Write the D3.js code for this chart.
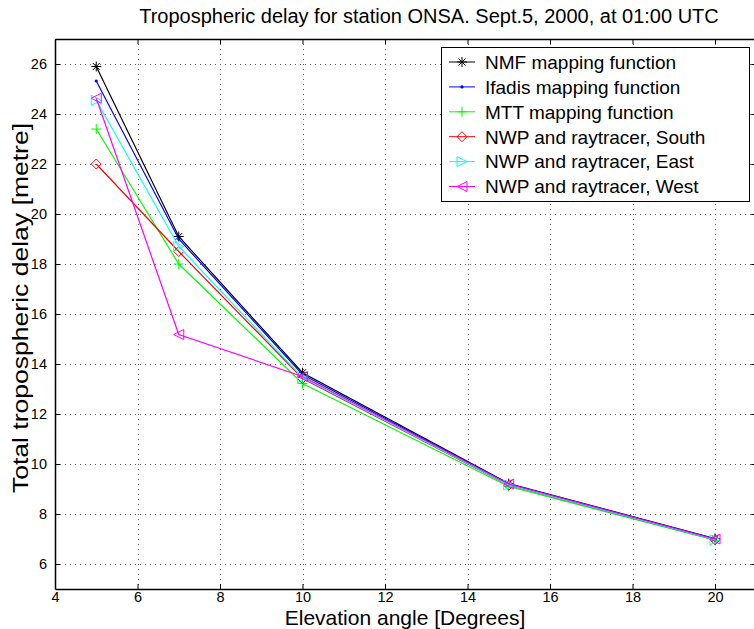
<!DOCTYPE html>
<html>
<head>
<meta charset="utf-8">
<script src="https://cdn.jsdelivr.net/npm/d3@7"></script>
<style>
  html, body { margin: 0; padding: 0; background: #fff; }
  svg { display: block; }
  text { font-family: "Liberation Sans", Arial, Helvetica, sans-serif; fill: #000; }
</style>
</head>
<body>
<svg id="chart" width="754" height="629"></svg>
<script>
// ---- data ----
const elevation = [5, 7, 10, 15, 20];
const nmf    = [25.9, 19.1, 13.65, 9.22, 7.02];
const ifadis = [25.32, 19.0, 13.58, 9.2, 7.0];
const mtt    = [23.4, 18.0, 13.22, 9.1, 6.95];
const south  = [22.0, 18.5, 13.42, 9.15, 6.97];
const east   = [24.55, 18.7, 13.46, 9.16, 6.97];
const west   = [24.63, 15.18, 13.5, 9.2, 7.0];
const seriesNames = ["NMF mapping function", "Ifadis mapping function", "MTT mapping function",
  "NWP and raytracer, South", "NWP and raytracer, East", "NWP and raytracer, West"];
const xTicks = [4, 6, 8, 10, 12, 14, 16, 18, 20];
const yTicks = [6, 8, 10, 12, 14, 16, 18, 20, 22, 24, 26];
const titleText = "Tropospheric delay for station ONSA. Sept.5, 2000, at 01:00 UTC";
const xLabel = "Elevation angle [Degrees]";
const yLabel = "Total tropospheric delay [metre]";

const series = [
  { name: seriesNames[0], values: nmf,    color: "#000000", marker: "star" },
  { name: seriesNames[1], values: ifadis, color: "#0000ff", marker: "dot" },
  { name: seriesNames[2], values: mtt,    color: "#00ff00", marker: "plus" },
  { name: seriesNames[3], values: south,  color: "#ff0000", marker: "diamond" },
  { name: seriesNames[4], values: east,   color: "#00ffff", marker: "triR" },
  { name: seriesNames[5], values: west,   color: "#ff00ff", marker: "triL" }
];

// ---- layout ----
const L = 55, T = 39, B = 589;
const x = d3.scaleLinear().domain([4, 21]).range([L, L + 17 * 41.25]);
const y = d3.scaleLinear().domain([5, 27]).range([B, T]);
const R = x(21);

const svg = d3.select("#chart");

// grid
const grid = svg.append("g").attr("stroke", "#000").attr("stroke-width", 1)
  .attr("stroke-dasharray", "1,4").attr("shape-rendering", "crispEdges").attr("opacity", 0.6);
xTicks.filter(t => t > 4).forEach(t => {
  grid.append("line").attr("x1", Math.round(x(t)) + 0.5).attr("x2", Math.round(x(t)) + 0.5)
    .attr("y1", T).attr("y2", B);
});
yTicks.forEach(t => {
  grid.append("line").attr("y1", Math.round(y(t)) + 0.5).attr("y2", Math.round(y(t)) + 0.5)
    .attr("x1", L).attr("x2", R);
});

// axes via d3
const xAxisB = d3.axisBottom(x).tickValues(xTicks).tickSizeInner(-5).tickSizeOuter(0).tickPadding(3);
const xAxisT = d3.axisTop(x).tickValues(xTicks).tickSizeInner(-5).tickSizeOuter(0).tickFormat("");
const yAxisL = d3.axisLeft(y).tickValues(yTicks).tickSizeInner(-5).tickSizeOuter(0).tickPadding(8);
const yAxisR = d3.axisRight(y).tickValues(yTicks).tickSizeInner(-5).tickSizeOuter(0).tickFormat("");

function styleAxis(g) {
  g.selectAll("path").attr("stroke", "#000").attr("stroke-width", 1.5);
  g.selectAll("line").attr("stroke", "#000");
  g.selectAll("text").attr("font-size", 14.5).attr("fill", "#000")
    .attr("font-family", "'Liberation Sans', Arial, sans-serif");
}
svg.append("g").attr("transform", `translate(0,${B})`).call(xAxisB).call(styleAxis);
svg.append("g").attr("transform", `translate(0,${T})`).call(xAxisT).call(styleAxis);
svg.append("g").attr("transform", `translate(${L},0)`).call(yAxisL).call(styleAxis);
svg.append("g").attr("transform", `translate(${R},0)`).call(yAxisR).call(styleAxis);

// markers
function drawMarker(g, type, cx, cy, color) {
  const s = 5;
  if (type === "star") {
    const p = `M${cx - s},${cy}L${cx + s},${cy}M${cx},${cy - s}L${cx},${cy + s}` +
      `M${cx - s * 0.7},${cy - s * 0.7}L${cx + s * 0.7},${cy + s * 0.7}M${cx - s * 0.7},${cy + s * 0.7}L${cx + s * 0.7},${cy - s * 0.7}`;
    g.append("path").attr("d", p).attr("stroke", color).attr("stroke-width", 1).attr("fill", "none");
  } else if (type === "dot") {
    g.append("circle").attr("cx", cx).attr("cy", cy).attr("r", 1.6).attr("fill", color);
  } else if (type === "plus") {
    const p = `M${cx - s},${cy}L${cx + s},${cy}M${cx},${cy - s}L${cx},${cy + s}`;
    g.append("path").attr("d", p).attr("stroke", color).attr("stroke-width", 1).attr("fill", "none");
  } else if (type === "diamond") {
    const p = `M${cx},${cy - s}L${cx + s},${cy}L${cx},${cy + s}L${cx - s},${cy}Z`;
    g.append("path").attr("d", p).attr("stroke", color).attr("stroke-width", 1).attr("fill", "none");
  } else if (type === "triR") {
    const p = `M${cx + s},${cy}L${cx - s},${cy - s}L${cx - s},${cy + s}Z`;
    g.append("path").attr("d", p).attr("stroke", color).attr("stroke-width", 1).attr("fill", "none");
  } else if (type === "triL") {
    const p = `M${cx - s},${cy}L${cx + s},${cy - s}L${cx + s},${cy + s}Z`;
    g.append("path").attr("d", p).attr("stroke", color).attr("stroke-width", 1).attr("fill", "none");
  }
}

const line = d3.line().x((d, i) => x(elevation[i])).y(d => y(d));
const plot = svg.append("g");
series.forEach(s => {
  plot.append("path").datum(s.values).attr("d", line)
    .attr("fill", "none").attr("stroke", s.color).attr("stroke-width", 1.2);
  s.values.forEach((v, i) => drawMarker(plot, s.marker, x(elevation[i]), y(v), s.color));
});

// legend
const lg = svg.append("g");
const lx = 441, ly = 47, lw = 308, lh = 154;
lg.append("rect").attr("x", lx + 0.5).attr("y", ly + 0.5).attr("width", lw).attr("height", lh)
  .attr("fill", "#fff").attr("stroke", "#000").attr("stroke-width", 1);
series.forEach((s, i) => {
  const yy = 62 + i * 24.9;
  lg.append("line").attr("x1", 449).attr("x2", 475).attr("y1", yy).attr("y2", yy)
    .attr("stroke", s.color).attr("stroke-width", 1);
  drawMarker(lg, s.marker, 462, yy, s.color);
  lg.append("text").attr("x", 485).attr("y", yy).attr("dy", "0.36em")
    .attr("font-size", 19).text(s.name);
});

// title & labels
svg.append("text").attr("x", 429).attr("y", 23).attr("text-anchor", "middle")
  .attr("font-size", 20).text(titleText);
svg.append("text").attr("x", 405).attr("y", 625).attr("text-anchor", "middle")
  .attr("font-size", 21).text(xLabel);
svg.append("text").attr("transform", `translate(28,308) rotate(-90) scale(1.18,1)`)
  .attr("text-anchor", "middle").attr("font-size", 22.5).text(yLabel);
</script>
</body>
</html>
